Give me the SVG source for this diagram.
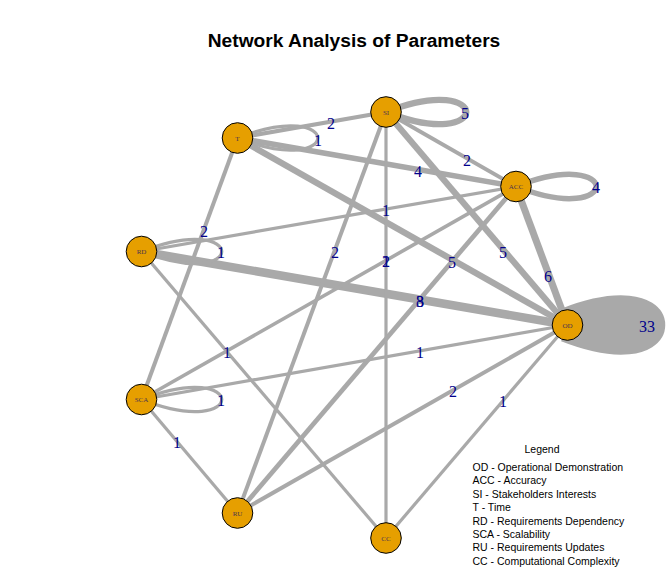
<svg xmlns="http://www.w3.org/2000/svg" width="670" height="586" viewBox="0 0 670 586">
<style>
.e{stroke:#A9A9A9;fill:none;stroke-linecap:butt}
.el{font-family:"Liberation Serif","Times New Roman",serif;font-size:16px;fill:#00008B;text-anchor:middle}
.n{fill:#E69F00;stroke:#000;stroke-width:1}
.nl{font-family:"Liberation Serif","Times New Roman",serif;font-size:7px;fill:#4a3550;text-anchor:middle}
.title{font-family:"Liberation Sans",Arial,sans-serif;font-size:19.2px;font-weight:bold;fill:#000;text-anchor:middle}
.lg{font-family:"Liberation Sans",Arial,sans-serif;font-size:10.5px;fill:#000}
</style>
<rect width="670" height="586" fill="#fff"/>
<text class="title" x="354" y="47">Network Analysis of Parameters</text>
<g id="edges">
  <!-- straight edges -->
  <line class="e" x1="237.5" y1="138" x2="386" y2="112" stroke-width="4"/>
  <line class="e" x1="386" y1="112" x2="516" y2="186.5" stroke-width="4"/>
  <line class="e" x1="237.5" y1="138" x2="516" y2="186.5" stroke-width="5.5"/>
  <line class="e" x1="141.5" y1="251.5" x2="516" y2="186.5" stroke-width="3.2"/>
  <line class="e" x1="237.5" y1="138" x2="567.5" y2="325" stroke-width="6.3"/>
  <line class="e" x1="386" y1="112" x2="567.5" y2="325" stroke-width="6.3"/>
  <line class="e" x1="516" y1="186.5" x2="567.5" y2="325" stroke-width="7"/>
  <line class="e" x1="141.5" y1="251.5" x2="567.5" y2="325" stroke-width="8.5"/>
  <line class="e" x1="516" y1="186.5" x2="237.5" y2="513" stroke-width="4.7"/>
  <line class="e" x1="237.5" y1="138" x2="141.5" y2="399.5" stroke-width="4"/>
  <line class="e" x1="386" y1="112" x2="237.5" y2="513" stroke-width="4"/>
  <line class="e" x1="386" y1="112" x2="386" y2="538" stroke-width="3.2"/>
  <line class="e" x1="141.5" y1="399.5" x2="516" y2="186.5" stroke-width="3.6"/>
  <line class="e" x1="141.5" y1="251.5" x2="386" y2="538" stroke-width="3.2"/>
  <line class="e" x1="141.5" y1="399.5" x2="567.5" y2="325" stroke-width="3.2"/>
  <line class="e" x1="141.5" y1="399.5" x2="237.5" y2="513" stroke-width="3.2"/>
  <line class="e" x1="237.5" y1="513" x2="567.5" y2="325" stroke-width="4"/>
  <line class="e" x1="386" y1="538" x2="567.5" y2="325" stroke-width="3.2"/>
  <!-- loops -->
  <path class="e" d="M237.5,138 C344.5,96 344.5,180 237.5,138" stroke-width="3.2"/>
  <path class="e" d="M386,112 C493,70 493,154 386,112" stroke-width="6.3"/>
  <path class="e" d="M516,186.5 C623,144.5 623,228.5 516,186.5" stroke-width="5.5"/>
  <path class="e" d="M141.5,251.5 C248.5,209.5 248.5,293.5 141.5,251.5" stroke-width="3.2"/>
  <path class="e" d="M141.5,399.5 C248.5,357.5 248.5,441.5 141.5,399.5" stroke-width="3.2"/>
  <path class="e" d="M567.5,325 C674.5,283 674.5,367 567.5,325" stroke-width="35" stroke-linejoin="round"/>
  <!-- edge labels -->
  <text class="el" x="331" y="129">2</text>
  <text class="el" x="318" y="146">1</text>
  <text class="el" x="465" y="119">5</text>
  <text class="el" x="467" y="166">2</text>
  <text class="el" x="418" y="177">4</text>
  <text class="el" x="386" y="216">1</text>
  <text class="el" x="452" y="268">5</text>
  <text class="el" x="503" y="258">5</text>
  <text class="el" x="548" y="282">6</text>
  <text class="el" x="420" y="307">8</text>
  <text class="el" x="420" y="307">3</text>
  <text class="el" x="204" y="237">2</text>
  <text class="el" x="221" y="258">1</text>
  <text class="el" x="335" y="258">2</text>
  <text class="el" x="386" y="267">1</text>
  <text class="el" x="386" y="267">2</text>
  <text class="el" x="227" y="358">1</text>
  <text class="el" x="420" y="358">1</text>
  <text class="el" x="221" y="406">1</text>
  <text class="el" x="177" y="448">1</text>
  <text class="el" x="453" y="397">2</text>
  <text class="el" x="503" y="407">1</text>
  <text class="el" x="647" y="332">33</text>
  <text class="el" x="596" y="193">4</text>
</g>
<g id="node-SI"><circle class="n" cx="386" cy="112" r="15.3"/><text class="nl" x="386" y="114.5">SI</text></g>
<g id="node-T"><circle class="n" cx="237.5" cy="138" r="15.3"/><text class="nl" x="237.5" y="140.5">T</text></g>
<g id="node-ACC"><circle class="n" cx="516" cy="186.5" r="15.3"/><text class="nl" x="516" y="189">ACC</text></g>
<g id="node-RD"><circle class="n" cx="141.5" cy="251.5" r="15.3"/><text class="nl" x="141.5" y="254">RD</text></g>
<g id="node-OD"><circle class="n" cx="567.5" cy="325" r="15.3"/><text class="nl" x="567.5" y="327.5">OD</text></g>
<g id="node-SCA"><circle class="n" cx="141.5" cy="399.5" r="15.3"/><text class="nl" x="141.5" y="402">SCA</text></g>
<g id="node-RU"><circle class="n" cx="237.5" cy="513" r="15.3"/><text class="nl" x="237.5" y="515.5">RU</text></g>
<g id="node-CC"><circle class="n" cx="386" cy="538" r="15.3"/><text class="nl" x="386" y="540.5">CC</text></g>
<g id="legend">
  <text class="lg" x="542" y="453" text-anchor="middle">Legend</text>
  <text class="lg" x="472.5" y="471">OD - Operational Demonstration</text>
  <text class="lg" x="472.5" y="484.4">ACC - Accuracy</text>
  <text class="lg" x="472.5" y="497.8">SI - Stakeholders Interests</text>
  <text class="lg" x="472.5" y="511.2">T - Time</text>
  <text class="lg" x="472.5" y="524.6">RD - Requirements Dependency</text>
  <text class="lg" x="472.5" y="538">SCA - Scalability</text>
  <text class="lg" x="472.5" y="551.4">RU - Requirements Updates</text>
  <text class="lg" x="472.5" y="564.8">CC - Computational Complexity</text>
</g>
</svg>
